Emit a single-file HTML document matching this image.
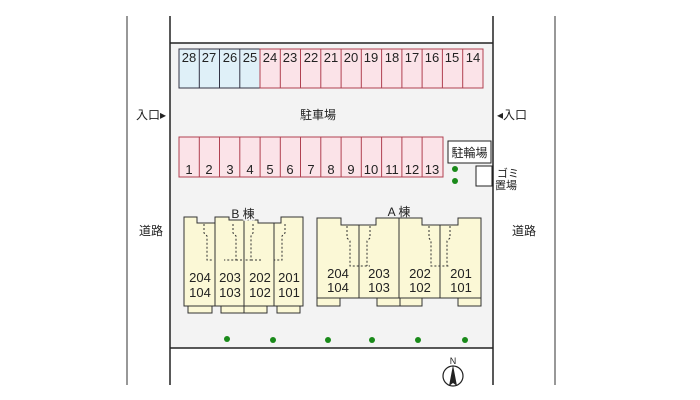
<!DOCTYPE html>
<html><head><meta charset="utf-8"><style>
html,body{margin:0;padding:0;background:#fff;}
svg{display:block;font-family:"Liberation Sans","Noto Sans CJK JP",sans-serif;}
</style></head><body>
<svg width="700" height="400" viewBox="0 0 700 400" xmlns="http://www.w3.org/2000/svg">
<rect x="170" y="43" width="323" height="305" fill="#f3f3f3"/>
<line x1="127" y1="16" x2="127" y2="385" stroke="#777" stroke-width="1.5"/>
<line x1="555" y1="16" x2="555" y2="385" stroke="#777" stroke-width="1.5"/>
<line x1="170" y1="16" x2="170" y2="385" stroke="#222" stroke-width="1.5"/>
<line x1="493" y1="16" x2="493" y2="385" stroke="#222" stroke-width="1.5"/>
<line x1="170" y1="43" x2="493" y2="43" stroke="#222" stroke-width="1.5"/>
<line x1="170" y1="348" x2="493" y2="348" stroke="#222" stroke-width="1.5"/>
<g font-size="13" fill="#222" text-anchor="middle">
<g stroke-width="1">
<rect x="179" y="49" width="81" height="39" fill="#dff0f8" stroke="#334"/>
<rect x="260" y="49" width="223" height="39" fill="#fbe3e8" stroke="#b04050"/>
<line x1="199.3" y1="49" x2="199.3" y2="88" stroke="#334"/>
<line x1="219.5" y1="49" x2="219.5" y2="88" stroke="#334"/>
<line x1="239.8" y1="49" x2="239.8" y2="88" stroke="#334"/>
</g>
<g stroke="#b04050" stroke-width="1">
<line x1="280.3" y1="49" x2="280.3" y2="88"/><line x1="300.5" y1="49" x2="300.5" y2="88"/>
<line x1="320.8" y1="49" x2="320.8" y2="88"/><line x1="341.1" y1="49" x2="341.1" y2="88"/>
<line x1="361.3" y1="49" x2="361.3" y2="88"/><line x1="381.6" y1="49" x2="381.6" y2="88"/>
<line x1="401.9" y1="49" x2="401.9" y2="88"/><line x1="422.1" y1="49" x2="422.1" y2="88"/>
<line x1="442.4" y1="49" x2="442.4" y2="88"/><line x1="462.7" y1="49" x2="462.7" y2="88"/>
</g>
<text x="189" y="62">28</text><text x="209" y="62">27</text><text x="230" y="62">26</text><text x="250" y="62">25</text>
<text x="270" y="62">24</text><text x="290" y="62">23</text><text x="311" y="62">22</text><text x="331" y="62">21</text>
<text x="351" y="62">20</text><text x="371" y="62">19</text><text x="392" y="62">18</text><text x="412" y="62">17</text>
<text x="432" y="62">16</text><text x="452" y="62">15</text><text x="473" y="62">14</text>
<rect x="179" y="137" width="264" height="40" fill="#fbe3e8" stroke="#b04050"/>
<g stroke="#b04050" stroke-width="1">
<line x1="199.3" y1="137" x2="199.3" y2="177"/><line x1="219.5" y1="137" x2="219.5" y2="177"/>
<line x1="239.8" y1="137" x2="239.8" y2="177"/><line x1="260.1" y1="137" x2="260.1" y2="177"/>
<line x1="280.3" y1="137" x2="280.3" y2="177"/><line x1="300.5" y1="137" x2="300.5" y2="177"/>
<line x1="320.8" y1="137" x2="320.8" y2="177"/><line x1="341.1" y1="137" x2="341.1" y2="177"/>
<line x1="361.3" y1="137" x2="361.3" y2="177"/><line x1="381.6" y1="137" x2="381.6" y2="177"/>
<line x1="401.9" y1="137" x2="401.9" y2="177"/><line x1="422.1" y1="137" x2="422.1" y2="177"/>
</g>
<text x="189" y="174">1</text><text x="209" y="174">2</text><text x="230" y="174">3</text><text x="250" y="174">4</text>
<text x="270" y="174">5</text><text x="290" y="174">6</text><text x="311" y="174">7</text><text x="331" y="174">8</text>
<text x="351" y="174">9</text><text x="371" y="174">10</text><text x="392" y="174">11</text><text x="412" y="174">12</text>
<text x="432" y="174">13</text>
</g>
<g font-size="12" fill="#222" text-anchor="middle">
<text x="318" y="119">駐車場</text>
<text x="151" y="119">入口▸</text>
<text x="512" y="119">◂入口</text>
<text x="151" y="235">道路</text>
<text x="524" y="235">道路</text>
</g>
<rect x="448" y="141" width="43" height="22" fill="#fff" stroke="#222"/>
<text x="469.5" y="157" font-size="12" text-anchor="middle" fill="#222">駐輪場</text>
<rect x="476" y="166" width="16" height="20" fill="#fff" stroke="#222"/>
<text x="497" y="177" font-size="11" fill="#222">ゴミ</text>
<text x="495" y="189" font-size="11" fill="#222">置場</text>
<g fill="#1a8a1a">
<circle cx="455" cy="169" r="3"/><circle cx="455" cy="181" r="3"/>
<circle cx="227" cy="339" r="3"/><circle cx="273" cy="340" r="3"/><circle cx="328" cy="340" r="3"/>
<circle cx="372" cy="340" r="3"/><circle cx="418" cy="340" r="3"/><circle cx="465" cy="340" r="3"/>
</g>
<g stroke="#333" stroke-width="1" fill="#fbf8d6">
<rect x="188" y="305" width="24" height="8"/><rect x="221" y="305" width="23" height="8"/>
<rect x="244" y="305" width="23" height="8"/><rect x="277" y="305" width="23" height="8"/>
<path d="M184 217 H197 V223 H215 V217 H229 V220 H258 V223 H274 V223 H281 V217 H303 V306 H184 Z"/>
<line x1="215" y1="217" x2="215" y2="306"/><line x1="244" y1="220" x2="244" y2="306"/><line x1="274" y1="223" x2="274" y2="306"/>
</g>
<g stroke="#333" stroke-width="1" fill="none" stroke-dasharray="2,2">
<path d="M204 224 V233 L207 236 V260 H212"/><path d="M233 224 V233 L236 236 V260 H224 M236 260 H244"/>
<path d="M253 224 V233 L251 236 V260 H244 M251 260 H262"/><path d="M285 224 V233 L282 236 V260 H274"/>
</g>
<text x="243" y="218" font-size="12" text-anchor="middle" fill="#222" style="paint-order:stroke" stroke="#f3f3f3" stroke-width="3">B 棟</text>
<g stroke="#333" stroke-width="1" fill="#fbf8d6">
<path d="M317 218 H341 V225 H376 V218 H422 V225 H458 V218 H481 V298 H317 Z"/>
<rect x="317" y="298" width="23" height="8"/><rect x="377" y="298" width="23" height="8"/>
<rect x="400" y="298" width="22" height="8"/><rect x="458" y="298" width="23" height="8"/>
<line x1="359" y1="225" x2="359" y2="298"/><line x1="399" y1="218" x2="399" y2="298"/><line x1="440" y1="225" x2="440" y2="298"/>
</g>
<g stroke="#333" stroke-width="1" fill="none" stroke-dasharray="2,2">
<path d="M347 226 V238 L350 241 V266 H370"/><path d="M370 226 V238 L367 241 V266"/>
<path d="M429 226 V238 L431 241 V266 H450"/><path d="M450 226 V238 L447 241 V266"/>
</g>
<text x="399" y="216" font-size="12" text-anchor="middle" fill="#222">A 棟</text>
<g font-size="13" fill="#222" text-anchor="middle">
<text x="200" y="282">204</text><text x="200" y="297">104</text>
<text x="230" y="282">203</text><text x="230" y="297">103</text>
<text x="260" y="282">202</text><text x="260" y="297">102</text>
<text x="289" y="282">201</text><text x="289" y="297">101</text>
<text x="338" y="278">204</text><text x="338" y="292">104</text>
<text x="379" y="278">203</text><text x="379" y="292">103</text>
<text x="420" y="278">202</text><text x="420" y="292">102</text>
<text x="461" y="278">201</text><text x="461" y="292">101</text>
</g>
<circle cx="453" cy="376" r="10" fill="#fff" stroke="#222" stroke-width="1.2"/>
<path d="M453 365 L449 386 L453 383 L457 386 Z" fill="#222"/>
<text x="453" y="364" font-size="9" text-anchor="middle" fill="#222">N</text>
</svg>
</body></html>
